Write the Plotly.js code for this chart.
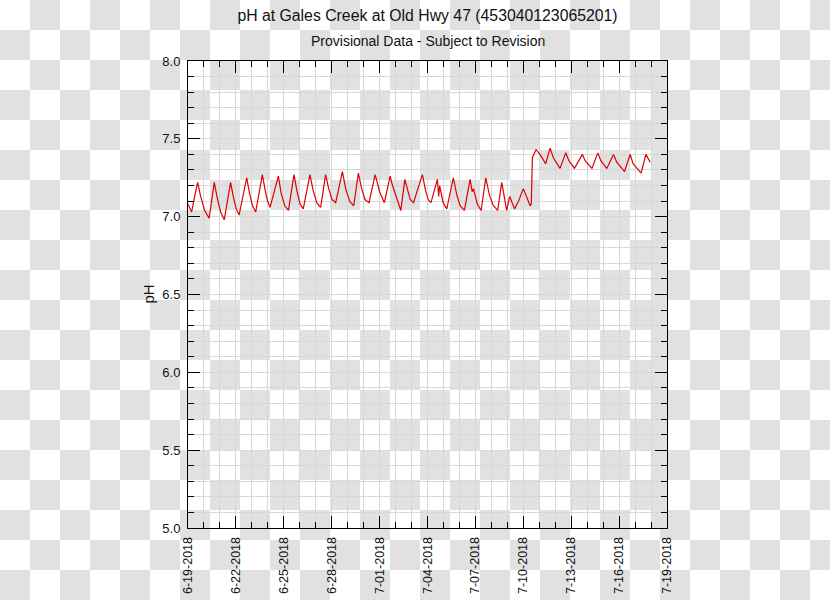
<!DOCTYPE html>
<html>
<head>
<meta charset="utf-8">
<script src="https://cdn.plot.ly/plotly-3.0.1.min.js"></script>
<style>
  html, body { margin: 0; padding: 0; width: 830px; height: 600px; overflow: hidden;
    background: repeating-conic-gradient(#e1e1e1 0 25%, #ffffff 0 50%) 0 0 / 60px 60px; }
  #chart { width: 830px; height: 600px; }
</style>
</head>
<body>
<div id="chart"></div>
<script>
const chartTitle = "pH at Gales Creek at Old Hwy 47 (453040123065201)";
const chartSubtitle = "Provisional Data - Subject to Revision";
const yLabel = "pH";

const times = [
  "2018-06-19 00:00","2018-06-19 05:30","2018-06-19 09:30","2018-06-19 14:30","2018-06-19 19:00","2018-06-20 01:00",
  "2018-06-20 07:45","2018-06-20 15:30","2018-06-20 20:00","2018-06-21 01:00",
  "2018-06-21 06:30","2018-06-21 16:00","2018-06-21 20:00","2018-06-22 00:30",
  "2018-06-22 04:45","2018-06-22 16:15","2018-06-22 20:30","2018-06-23 01:00",
  "2018-06-23 05:45","2018-06-23 15:45","2018-06-23 20:00","2018-06-23 23:30",
  "2018-06-24 03:20","2018-06-24 15:50","2018-06-24 20:00","2018-06-25 01:30",
  "2018-06-25 07:00","2018-06-25 15:20","2018-06-25 20:00","2018-06-26 00:30",
  "2018-06-26 05:15","2018-06-26 15:20","2018-06-26 20:00","2018-06-27 01:30",
  "2018-06-27 07:25","2018-06-27 14:50","2018-06-27 19:30","2018-06-28 00:30",
  "2018-06-28 06:00","2018-06-28 16:05","2018-06-28 21:00","2018-06-29 03:00",
  "2018-06-29 09:05","2018-06-29 16:05","2018-06-29 21:00",
  "2018-06-30 02:00","2018-06-30 08:10","2018-06-30 17:15","2018-06-30 20:25",
  "2018-07-01 00:00","2018-07-01 07:10","2018-07-01 08:40","2018-07-01 15:50","2018-07-01 18:45",
  "2018-07-02 01:10","2018-07-02 07:55","2018-07-02 13:55","2018-07-02 18:30","2018-07-02 22:00",
  "2018-07-03 02:55","2018-07-03 16:20","2018-07-03 21:00","2018-07-04 01:00",
  "2018-07-04 05:15","2018-07-04 14:50","2018-07-04 16:50","2018-07-04 18:15","2018-07-04 23:30",
  "2018-07-05 05:00","2018-07-05 14:50","2018-07-05 20:00","2018-07-06 01:00",
  "2018-07-06 07:25","2018-07-06 16:05","2018-07-06 19:10","2018-07-06 21:05","2018-07-07 03:00",
  "2018-07-07 08:40","2018-07-07 15:35","2018-07-07 21:00","2018-07-08 03:00",
  "2018-07-08 09:35","2018-07-08 15:35","2018-07-08 23:00",
  "2018-07-09 03:35","2018-07-09 10:50","2018-07-09 16:50",
  "2018-07-10 00:00","2018-07-10 10:20","2018-07-10 12:00","2018-07-10 13:40","2018-07-10 19:10",
  "2018-07-11 01:10","2018-07-11 09:35","2018-07-11 16:20",
  "2018-07-11 21:00","2018-07-12 07:10","2018-07-12 15:50","2018-07-12 20:30",
  "2018-07-13 04:50","2018-07-13 16:50",
  "2018-07-13 21:00","2018-07-14 07:10","2018-07-14 16:05","2018-07-14 20:30",
  "2018-07-15 05:30","2018-07-15 15:35",
  "2018-07-15 20:30","2018-07-16 08:10","2018-07-16 16:35",
  "2018-07-16 21:00","2018-07-17 09:05","2018-07-17 16:20","2018-07-17 22:45"
];

const phValues = [
  7.08, 7.03, 7.12, 7.22, 7.13, 7.04,
  6.99, 7.22, 7.12, 7.03,
  6.98, 7.22, 7.13, 7.05,
  7.01, 7.25, 7.15, 7.07,
  7.03, 7.27, 7.17, 7.10,
  7.06, 7.26, 7.15, 7.07,
  7.04, 7.27, 7.16, 7.08,
  7.05, 7.27, 7.17, 7.09,
  7.06, 7.27, 7.18, 7.11,
  7.09, 7.29, 7.18, 7.10,
  7.07, 7.28, 7.18,
  7.11, 7.09, 7.27, 7.22,
  7.16, 7.09, 7.12, 7.26, 7.21,
  7.12, 7.04, 7.24, 7.16, 7.11,
  7.09, 7.27, 7.17, 7.11,
  7.09, 7.24, 7.13, 7.20, 7.09,
  7.05, 7.25, 7.14, 7.07,
  7.04, 7.24, 7.16, 7.18, 7.08,
  7.04, 7.25, 7.14, 7.07,
  7.04, 7.22, 7.04,
  7.13, 7.05, 7.10,
  7.18, 7.07, 7.08, 7.38, 7.43,
  7.40, 7.34, 7.44,
  7.38, 7.31, 7.41, 7.36,
  7.31, 7.40,
  7.36, 7.31, 7.41, 7.36,
  7.31, 7.40,
  7.35, 7.29, 7.40,
  7.34, 7.28, 7.40, 7.35
];

const xRange = ["2018-06-19 00:00", "2018-07-19 00:00"];
const yRange = [5.0, 8.0];
const shadedPeriod = ["2018-07-18 00:00", "2018-07-19 00:00"];

const DAY = 86400000;
const fontFam = "Liberation Sans, Arial, Helvetica, sans-serif";

const trace = {
  x: times, y: phValues, type: "scatter", mode: "lines",
  line: { color: "#dd0000", width: 1.2 },
  hoverinfo: "skip"
};

const layout = {
  width: 830, height: 600,
  margin: { l: 188, r: 163, t: 61, b: 72, pad: 0 },
  paper_bgcolor: "rgba(0,0,0,0)",
  plot_bgcolor: "rgba(0,0,0,0)",
  showlegend: false,
  font: { family: fontFam, color: "#111111", size: 12.5 },
  title: {
    text: chartTitle,
    font: { family: fontFam, size: 15.8, color: "#111111" },
    xref: "paper", x: 0.5, xanchor: "center",
    yref: "container", y: 1 - 15 / 600, yanchor: "middle"
  },
  annotations: [
    { text: chartSubtitle, xref: "paper", yref: "paper", x: 0.5, y: 1,
      xanchor: "center", yanchor: "middle", yshift: 20, showarrow: false,
      font: { family: fontFam, size: 14, color: "#111111" } },
    { text: yLabel, xref: "paper", yref: "paper", x: 0, y: 0.5,
      xanchor: "center", yanchor: "middle", xshift: -40, textangle: -90, showarrow: false,
      font: { family: fontFam, size: 15, color: "#111111" } }
  ],
  shapes: [
    { type: "rect", xref: "x", yref: "paper", x0: shadedPeriod[0], x1: shadedPeriod[1], y0: 0, y1: 1,
      fillcolor: "#e1e1e1", line: { width: 0 }, layer: "between" }
  ],
  xaxis: {
    type: "date", range: xRange,
    tickmode: "linear", tick0: "2018-06-19", dtick: 3 * DAY,
    tickformat: "%-m-%d-%Y", tickangle: -90,
    ticks: "inside", ticklen: 12, tickwidth: 1, tickcolor: "#000",
    showline: true, linecolor: "#000", linewidth: 1, mirror: "ticks",
    showgrid: true, gridcolor: "#d8d8d8", gridwidth: 1, zeroline: false,
    tickfont: { family: fontFam, size: 12.5, color: "#111111" },
    ticklabelstandoff: 3,
    minor: { dtick: DAY, tick0: "2018-06-19", ticks: "inside", ticklen: 6, tickcolor: "#000",
             showgrid: true, gridcolor: "#d8d8d8", gridwidth: 1 },
    fixedrange: true
  },
  yaxis: {
    range: yRange, tickmode: "linear", tick0: 5, dtick: 0.5, tickformat: ".1f",
    ticks: "inside", ticklen: 12, tickwidth: 1, tickcolor: "#000",
    showline: true, linecolor: "#000", linewidth: 1, mirror: "ticks",
    showgrid: true, gridcolor: "#d8d8d8", gridwidth: 1, zeroline: false,
    tickfont: { family: fontFam, size: 13, color: "#111111" },
    ticklabelstandoff: 4,
    minor: { dtick: 0.1, tick0: 5, ticks: "inside", ticklen: 6, tickcolor: "#000",
             showgrid: true, gridcolor: "#d8d8d8", gridwidth: 1 },
    fixedrange: true
  }
};

Plotly.newPlot("chart", [trace], layout, { displayModeBar: false, staticPlot: true });
</script>
</body>
</html>
